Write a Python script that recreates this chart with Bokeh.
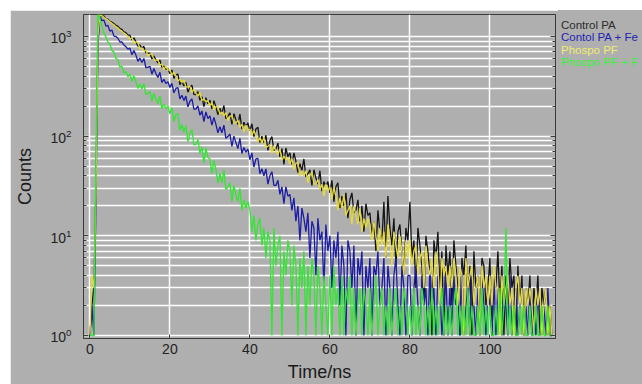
from bokeh.plotting import figure
from bokeh.layouts import row
from bokeh.models import Range1d, FixedTicker, LogAxis, LogTickFormatter, Div
from bokeh.embed import file_html
from bokeh.resources import INLINE

# ---------------- data ----------------
TIME_NS = [i * 0.5 for i in range(232)]

CONTROL_PA = [
    1, 2, 3, 30, 900, 1650, 1590, 1610, 1500, 1490, 1420, 1390, 1350, 1290, 1260, 1200, 1180, 1110, 1090, 1030,
    1030, 922, 967, 885, 799, 823, 760, 796, 685, 679, 678, 594, 637, 582, 542, 580, 489, 505, 470, 474,
    422, 461, 379, 412, 418, 329, 356, 318, 346, 276, 311, 324, 262, 261, 279, 229, 249, 198, 243, 211,
    229, 188, 227, 196, 164, 190, 167, 203, 150, 159, 171, 131, 168, 146, 131, 166, 118, 138, 124, 136,
    113, 133, 99, 118, 123, 86, 100, 86, 102, 72, 90, 99, 72, 74, 85, 62, 75, 52, 76, 62,
    68, 52, 68, 56, 43, 53, 45, 59, 39, 42, 46, 32, 46, 38, 33, 45, 28, 35, 31, 35,
    27, 36, 22, 31, 34, 19, 25, 20, 27, 15, 23, 27, 17, 18, 23, 14, 20, 11, 21, 16,
    17, 10, 14, 7, 18, 11, 9, 22, 6, 25, 12, 8, 15, 5, 11, 13, 7, 4, 12, 9,
    22, 6, 9, 3, 12, 8, 5, 2, 10, 7, 4, 1, 9, 6, 11, 3, 7, 1, 8, 4,
    7, 2, 9, 5, 3, 1, 6, 4, 8, 2, 5, 1, 7, 3, 4, 1, 6, 5, 2, 3,
    6, 1, 4, 3, 7, 2, 5, 1, 4, 2, 6, 3, 4, 1, 5, 2, 4, 1, 3, 2,
    4, 1, 3, 2, 4, 1, 3, 2, 3, 1, 2, 1,
]

CONTROL_PA_FE = [
    1, 2, 1, 20, 800, 1600, 1440, 1460, 1270, 1290, 1130, 1160, 1010, 1000, 960, 880, 880, 820, 790, 745,
    763, 656, 724, 650, 563, 605, 547, 601, 488, 489, 503, 418, 476, 424, 387, 437, 345, 371, 338, 351,
    307, 339, 272, 301, 306, 236, 257, 227, 252, 197, 224, 236, 187, 187, 201, 162, 179, 140, 175, 150,
    160, 129, 154, 131, 108, 124, 108, 129, 95, 99, 105, 79, 100, 86, 75, 95, 67, 77, 69, 74,
    58, 68, 49, 59, 60, 42, 47, 40, 47, 33, 40, 44, 32, 32, 36, 26, 31, 21, 31, 25,
    26, 18, 24, 14, 20, 9, 19, 15, 11, 17, 6, 14, 12, 4, 15, 9, 11, 3, 13, 7,
    10, 3, 9, 6, 11, 2, 8, 5, 1, 9, 7, 3, 8, 1, 6, 4, 7, 1, 5, 3,
    6, 1, 5, 4, 7, 2, 3, 6, 1, 5, 3, 1, 4, 6, 2, 1, 5, 3, 1, 4,
    4, 1, 3, 5, 2, 1, 4, 2, 3, 1, 5, 2, 3, 1, 4, 3, 1, 2, 4, 1,
    3, 1, 4, 2, 3, 1, 5, 1, 2, 3, 1, 4, 2, 1, 3, 1, 4, 2, 1, 3,
    2, 1, 4, 1, 3, 2, 1, 3, 2, 1, 4, 1, 2, 3, 1, 2, 3, 1, 2, 1,
    3, 1, 2, 1, 3, 2, 1, 2, 1, 3, 1, 1,
]

PHOSPO_PF = [
    1, 4, 3, 25, 1000, 1650, 1610, 1560, 1500, 1460, 1400, 1350, 1310, 1250, 1220, 1160, 1130, 1080, 1050, 1000,
    941, 970, 853, 881, 871, 751, 769, 710, 732, 636, 664, 670, 585, 574, 586, 515, 531, 461, 507, 459,
    464, 409, 439, 399, 357, 373, 345, 366, 311, 312, 315, 272, 298, 271, 251, 276, 227, 238, 222, 227,
    202, 218, 183, 198, 199, 164, 175, 159, 172, 143, 157, 162, 135, 135, 145, 122, 132, 110, 129, 114,
    118, 101, 114, 101, 87, 97, 85, 97, 77, 79, 82, 67, 80, 70, 65, 75, 57, 63, 58, 61,
    52, 60, 46, 53, 55, 40, 45, 40, 45, 34, 40, 44, 33, 33, 37, 29, 33, 25, 33, 28,
    31, 23, 31, 25, 18, 24, 19, 26, 16, 18, 20, 13, 20, 16, 13, 19, 11, 15, 12, 15,
    13, 9, 14, 10, 7, 12, 8, 11, 6, 13, 9, 5, 11, 8, 6, 10, 7, 4, 9, 6,
    9, 5, 7, 8, 4, 6, 7, 3, 8, 5, 4, 6, 3, 7, 5, 2, 6, 4, 5, 3,
    5, 3, 6, 4, 2, 5, 4, 1, 6, 3, 4, 5, 2, 3, 4, 1, 5, 3, 4, 2,
    4, 2, 5, 3, 3, 1, 4, 2, 3, 4, 2, 3, 1, 3, 4, 2, 3, 1, 3, 2,
    3, 2, 1, 3, 2, 3, 1, 2, 3, 1, 2, 1,
]

PHOSPO_PF_FE = [
    1, 1, 1, 60, 1750, 1500, 1260, 1080, 990, 880, 840, 720, 700, 600, 590, 490, 505, 430, 445, 395,
    420, 352, 403, 353, 300, 333, 296, 337, 262, 269, 280, 224, 268, 235, 212, 252, 188, 209, 189, 201,
    167, 193, 140, 164, 168, 114, 131, 109, 127, 88, 107, 116, 82, 82, 93, 67, 78, 54, 76, 61,
    59, 42, 57, 46, 34, 42, 34, 46, 29, 31, 34, 22, 32, 26, 22, 30, 18, 23, 19, 22,
    18, 11, 16, 9, 13, 15, 8, 12, 6, 11, 9, 1, 12, 5, 8, 10, 1, 7, 4, 9,
    7, 2, 8, 5, 1, 6, 3, 7, 1, 5, 2, 6, 4, 1, 5, 3, 1, 4, 2, 1,
    4, 1, 5, 2, 3, 1, 4, 1, 3, 2, 4, 1, 3, 1, 2, 3, 1, 3, 2, 1,
    3, 1, 2, 4, 1, 2, 3, 1, 2, 1, 3, 1, 2, 3, 1, 2, 1, 3, 2, 1,
    2, 1, 3, 1, 2, 1, 3, 2, 1, 2, 1, 3, 1, 2, 1, 2, 3, 1, 2, 1,
    2, 1, 2, 3, 1, 2, 1, 2, 1, 3, 1, 2, 1, 1, 2, 1, 3, 1, 2, 1,
    2, 1, 1, 2, 1, 3, 1, 2, 12, 1, 2, 1, 2, 1, 1, 2, 1, 2, 1, 1,
    2, 1, 1, 2, 1, 1, 2, 1, 1, 2, 1, 1,
]

SERIES_NAMES = ["Control PA", "Contol PA + Fe", "Phospo PF", "Phospo PF + F"]
X_TICKS = [0, 20, 40, 60, 80, 100]
Y_MAJOR = [1, 10, 100, 1000]
Y_MINOR = [2, 3, 4, 5, 6, 7, 8, 9, 20, 30, 40, 50, 60, 70, 80, 90,
           200, 300, 400, 500, 600, 700, 800, 900]

# ---------------- styling ----------------
GREY = "#afafaf"
LINE_COLORS = ["#151515", "#1c1ca6", "#e6da3a", "#2fe82f"]
TEXT_COLORS = ["#2b2b2b", "#2323b4", "#f0ec70", "#3cf03c"]
FONT = "Liberation Sans"
DARK = "#3a3a3a"
TXT = "#222222"

FIG_W = 548
p = figure(width=FIG_W, height=374, y_axis_type="log",
           x_range=Range1d(-1.6, 116.4), y_range=Range1d(0.933, 1660),
           output_backend="svg", toolbar_location=None, title=None,
           min_border_left=73, min_border_right=3, min_border_top=4, min_border_bottom=45,
           background_fill_color=GREY, border_fill_color=GREY,
           outline_line_color=DARK, outline_line_width=1)
p.margin = (10, 0, 0, 10)

# x axis
p.xaxis.ticker = FixedTicker(ticks=X_TICKS)
p.xaxis.major_tick_in = 4
p.xaxis.major_tick_out = 0
p.xaxis.minor_tick_in = 0
p.xaxis.minor_tick_out = 0
p.xaxis.axis_line_color = DARK
p.xaxis.major_tick_line_color = DARK
p.xaxis.major_label_text_font = FONT
p.xaxis.major_label_text_font_size = "14px"
p.xaxis.major_label_text_color = TXT
p.xaxis.major_label_standoff = 5
p.xaxis.axis_label = "Time/ns"
p.xaxis.axis_label_text_font = FONT
p.xaxis.axis_label_text_font_size = "18px"
p.xaxis.axis_label_text_font_style = "normal"
p.xaxis.axis_label_text_color = "#1a1a1a"
p.xaxis.axis_label_standoff = 5

# y axis (left)
p.yaxis.ticker = FixedTicker(ticks=Y_MAJOR, minor_ticks=Y_MINOR)
p.yaxis.formatter = LogTickFormatter()
p.yaxis.major_label_text_font = FONT
p.yaxis.major_label_text_font_size = "14px"
p.yaxis.major_label_text_color = TXT
p.yaxis.major_label_standoff = 12
p.yaxis.major_tick_in = 5
p.yaxis.major_tick_out = 0
p.yaxis.minor_tick_in = 3
p.yaxis.minor_tick_out = 0
p.yaxis.axis_line_color = DARK
p.yaxis.major_tick_line_color = DARK
p.yaxis.minor_tick_line_color = DARK
p.yaxis.axis_label = "Counts"
p.yaxis.axis_label_text_font = FONT
p.yaxis.axis_label_text_font_size = "18px"
p.yaxis.axis_label_text_font_style = "normal"
p.yaxis.axis_label_text_color = "#1a1a1a"
p.yaxis.axis_label_standoff = 12

# right axis with inward ticks only (labels invisible)
raxis = LogAxis(ticker=FixedTicker(ticks=Y_MAJOR, minor_ticks=Y_MINOR),
                major_label_text_font_size="1px", major_label_text_alpha=0,
                major_label_standoff=0,
                major_tick_in=5, major_tick_out=0, minor_tick_in=3, minor_tick_out=0,
                axis_line_color=DARK, major_tick_line_color=DARK,
                minor_tick_line_color=DARK)
p.add_layout(raxis, "right")

# grids
p.xgrid.grid_line_color = "white"
p.xgrid.grid_line_width = 1.5
p.ygrid.grid_line_color = "white"
p.ygrid.grid_line_width = 1.5
p.ygrid.minor_grid_line_color = "white"
p.ygrid.minor_grid_line_width = 1.5

# data lines
for ys, col in zip([CONTROL_PA, CONTROL_PA_FE, PHOSPO_PF, PHOSPO_PF_FE], LINE_COLORS):
    p.line(TIME_NS, ys, line_color=col, line_width=1.3)

# legend: coloured names only, in the grey strip right of the plot
lines_html = "".join(
    f'<div style="color:{c};white-space:nowrap;height:12.4px;line-height:12.4px">{n}</div>'
    for n, c in zip(SERIES_NAMES, TEXT_COLORS)
)
legend_div = Div(
    text=(f'<div style="font-family:\'{FONT}\',Arial,sans-serif;font-size:11.5px;'
          f'padding:9px 0 0 3px;margin:0">{lines_html}</div>'),
    width=642 - 10 - FIG_W, height=374, margin=(10, 0, 0, 0),
    styles={"background-color": GREY, "overflow": "hidden"},
)

layout = row(p, legend_div, spacing=0)
open("out.html", "w").write(file_html(layout, INLINE))
